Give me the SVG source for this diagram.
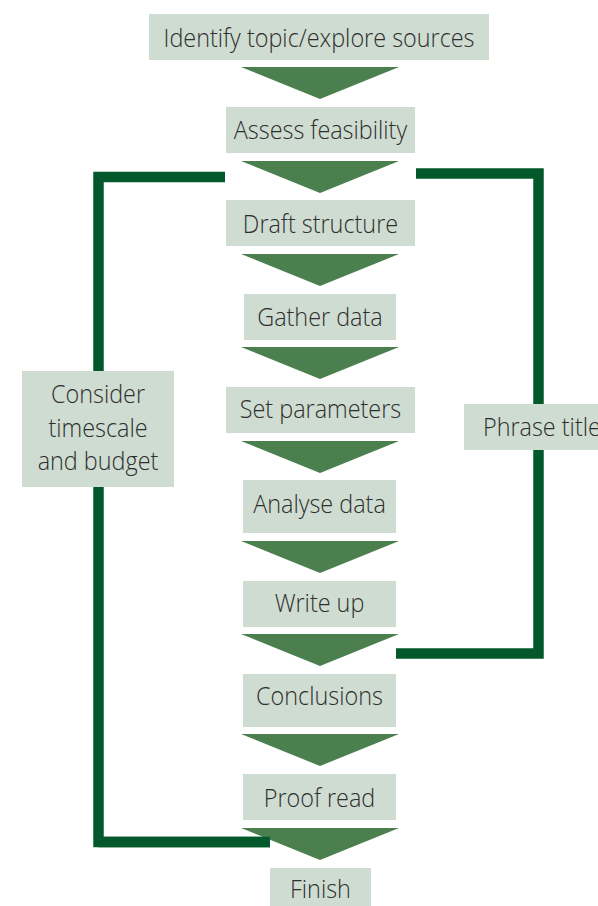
<svg xmlns="http://www.w3.org/2000/svg" width="598" height="906" viewBox="0 0 598 906">
<defs>
<style>
.box{fill:#cedcd1}
.tri{fill:#4b804e}
.lbl{font-family:"Open Sans","Noto Sans","Liberation Sans",sans-serif;font-size:26px;font-weight:350;fill:#2e2e2e;text-anchor:middle}
.loop{fill:none;stroke:#03592b;stroke-width:10.5;stroke-linejoin:miter}
</style>
<polygon id="arrowTri" class="tri" points="-79,0 79,0 0,32"/>
</defs>
<rect width="598" height="906" fill="#fff"/>
<g id="connectors">
<polyline class="loop" points="225,177 98.5,177 98.5,842 270,842"/>
<polyline class="loop" points="416,173.5 538.5,173.5 538.5,653.5 396,653.5"/>
</g>
<g id="arrows">
<use href="#arrowTri" x="320" y="67"/>
<use href="#arrowTri" x="320" y="161"/>
<use href="#arrowTri" x="320" y="254"/>
<use href="#arrowTri" x="320" y="347"/>
<use href="#arrowTri" x="320" y="441"/>
<use href="#arrowTri" x="320" y="541"/>
<use href="#arrowTri" x="320" y="634"/>
<use href="#arrowTri" x="320" y="734"/>
<use href="#arrowTri" x="320" y="828"/>
</g>
<polyline class="loop" points="98.5,842 270,842"/>
<g id="n1"><rect class="box" x="149" y="14" width="340" height="46"/><text class="lbl" x="319" y="47" transform="matrix(0.9 0 0 1 31.9 0)">Identify topic/explore sources</text></g>
<g id="n2"><rect class="box" x="226" y="107" width="189" height="46"/><text class="lbl" x="320.5" y="139" transform="matrix(0.9 0 0 1 32.05 0)">Assess feasibility</text></g>
<g id="n3"><rect class="box" x="226" y="200" width="189" height="46"/><text class="lbl" x="320.5" y="233" transform="matrix(0.9 0 0 1 32.05 0)">Draft structure</text></g>
<g id="n4"><rect class="box" x="244" y="294" width="152" height="46"/><text class="lbl" x="320" y="326" transform="matrix(0.9 0 0 1 32 0)">Gather data</text></g>
<g id="n5"><rect class="box" x="226" y="387" width="189" height="46"/><text class="lbl" x="320.5" y="418" transform="matrix(0.9 0 0 1 32.05 0)">Set parameters</text></g>
<g id="n6"><rect class="box" x="243" y="480" width="153" height="53"/><text class="lbl" x="319.5" y="513" transform="matrix(0.9 0 0 1 31.95 0)">Analyse data</text></g>
<g id="n7"><rect class="box" x="243" y="581" width="153" height="46"/><text class="lbl" x="319.5" y="612" transform="matrix(0.9 0 0 1 31.95 0)">Write up</text></g>
<g id="n8"><rect class="box" x="243" y="674" width="153" height="53"/><text class="lbl" x="319.5" y="705" transform="matrix(0.9 0 0 1 31.95 0)">Conclusions</text></g>
<g id="n9"><rect class="box" x="243" y="774" width="153" height="46"/><text class="lbl" x="319.5" y="807" transform="matrix(0.9 0 0 1 31.95 0)">Proof read</text></g>
<g id="n10"><rect class="box" x="270" y="868" width="101" height="40"/><text class="lbl" x="320.5" y="898" transform="matrix(0.9 0 0 1 32.05 0)">Finish</text></g>
<g id="consider"><rect class="box" x="22" y="371" width="152" height="116"/><g transform="matrix(0.9 0 0 1 9.8 0)"><text class="lbl" x="98" y="403">Consider</text><text class="lbl" x="98" y="437">timescale</text><text class="lbl" x="98" y="470">and budget</text></g></g>
<g id="phrase"><rect class="box" x="464" y="404" width="146" height="46"/><text class="lbl" x="483" y="436" style="text-anchor:start" transform="matrix(0.9 0 0 1 48.3 0)">Phrase title</text></g>
</svg>
